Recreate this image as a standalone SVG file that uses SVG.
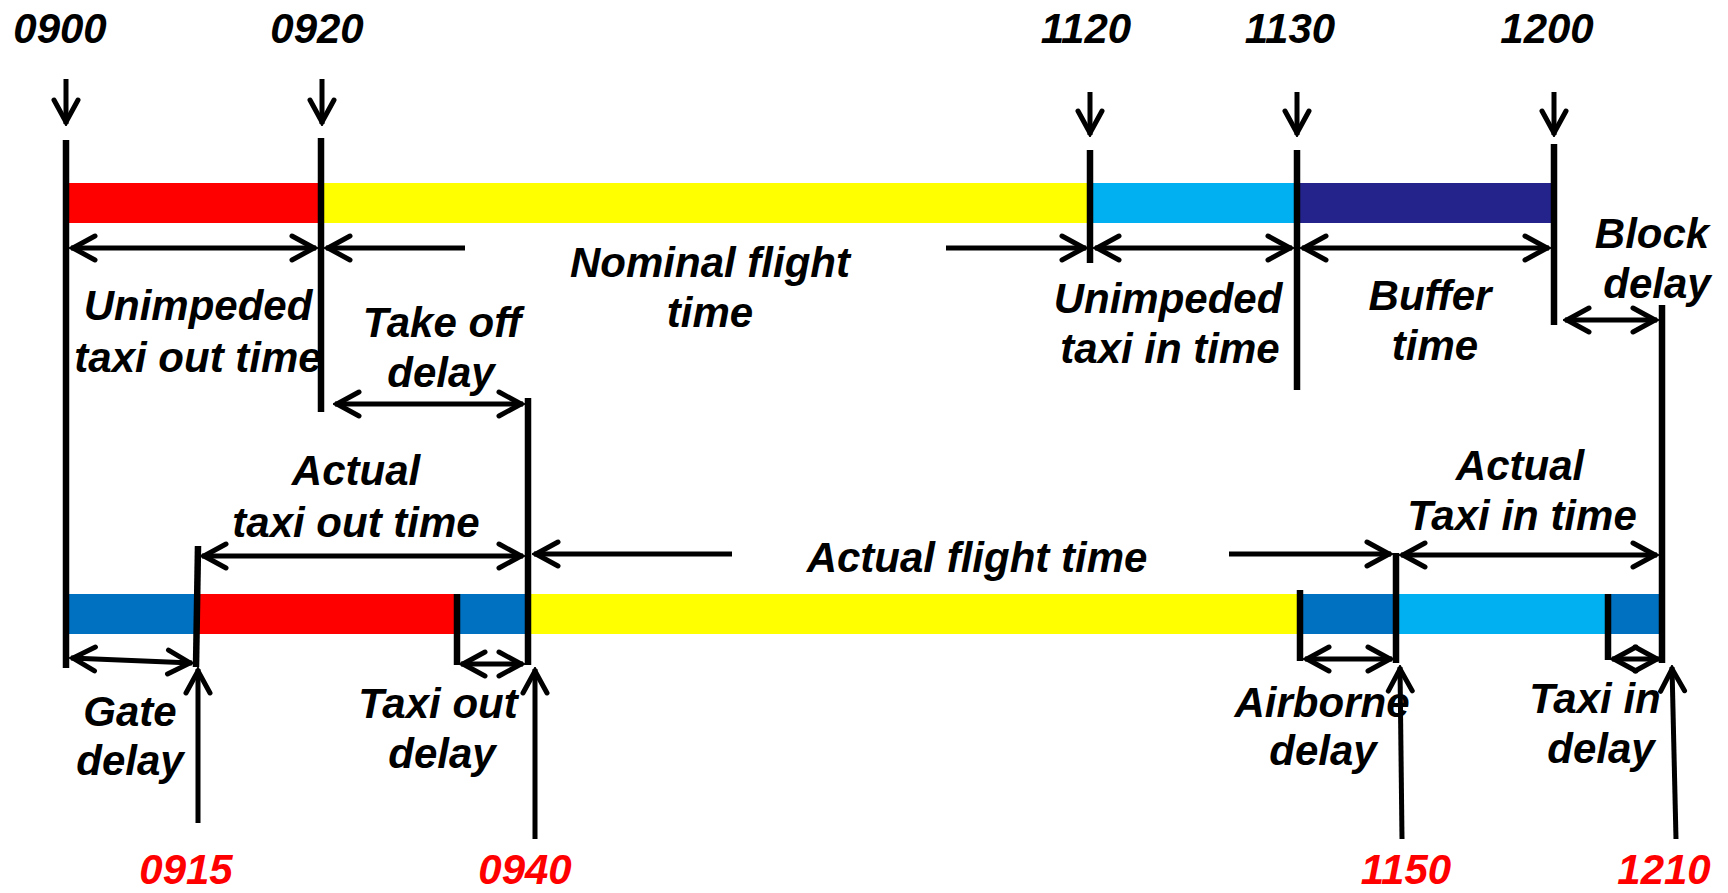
<svg xmlns="http://www.w3.org/2000/svg" width="1728" height="893" viewBox="0 0 1728 893">
  <style>
    text { font-family: "Liberation Sans", Arial, sans-serif; font-weight: bold; font-style: italic; font-size: 42px; text-anchor: middle; fill: #000; }
    text.red { fill: #FF0000; }
    .tick { stroke: #000; stroke-width: 6.5; fill: none; }
    .dim { stroke: #000; stroke-width: 5; fill: none; marker-end: url(#chev); }
    .dim2 { stroke: #000; stroke-width: 5; fill: none; marker-start: url(#chev); marker-end: url(#chev); }
    .ptr { stroke: #000; stroke-width: 5; fill: none; marker-end: url(#chev); }
  </style>
  <defs>
    <marker id="chev" markerUnits="userSpaceOnUse" viewBox="-30 -16 34 32" refX="2" refY="0" markerWidth="34" markerHeight="32" orient="auto-start-reverse">
      <path d="M-22,-12 L0,0 L-22,12" fill="none" stroke="#000" stroke-width="5" stroke-linecap="round" stroke-linejoin="miter"/>
    </marker>
  </defs>
  <rect width="1728" height="893" fill="#FFFFFF"/>

  <!-- scheduled timeline bar -->
  <g id="scheduled-bar">
    <rect x="66" y="183" width="255" height="40" fill="#FF0000"/>
    <rect x="321" y="183" width="769" height="40" fill="#FFFF00"/>
    <rect x="1090" y="183" width="207" height="40" fill="#00B0F0"/>
    <rect x="1297" y="183" width="254" height="40" fill="#23238B"/>
  </g>

  <!-- actual timeline bar -->
  <g id="actual-bar">
    <rect x="66" y="594" width="131" height="40" fill="#0070C0"/>
    <rect x="197" y="594" width="260" height="40" fill="#FF0000"/>
    <rect x="457" y="594" width="71" height="40" fill="#0070C0"/>
    <rect x="528" y="594" width="772" height="40" fill="#FFFF00"/>
    <rect x="1300" y="594" width="96" height="40" fill="#0070C0"/>
    <rect x="1396" y="594" width="212" height="40" fill="#00B0F0"/>
    <rect x="1608" y="594" width="52" height="40" fill="#0070C0"/>
  </g>

  <!-- time marker lines -->
  <g id="ticks">
    <line class="tick" x1="66" y1="140" x2="66" y2="668"/>
    <line class="tick" x1="321" y1="138" x2="321" y2="412"/>
    <line class="tick" x1="1090" y1="150" x2="1090" y2="263"/>
    <line class="tick" x1="1297" y1="150" x2="1297" y2="390"/>
    <line class="tick" x1="1554" y1="144" x2="1554" y2="325"/>
    <line class="tick" x1="528" y1="398" x2="528" y2="665"/>
    <line class="tick" x1="1662" y1="305" x2="1662" y2="663"/>
    <line class="tick" x1="198" y1="546" x2="196" y2="667"/>
    <line class="tick" x1="457" y1="594" x2="457" y2="665"/>
    <line class="tick" x1="1300" y1="590" x2="1300" y2="661"/>
    <line class="tick" x1="1396" y1="553" x2="1396" y2="663"/>
    <line class="tick" x1="1608" y1="594" x2="1608" y2="660"/>
  </g>

  <!-- connectors: pointers and dimension arrows -->
  <g id="connectors">
    <!-- scheduled time pointers -->
    <line class="ptr" x1="66" y1="79" x2="66" y2="124"/>
    <line class="ptr" x1="322" y1="79" x2="322" y2="124"/>
    <line class="ptr" x1="1090" y1="92" x2="1090" y2="135"/>
    <line class="ptr" x1="1297" y1="92" x2="1297" y2="135"/>
    <line class="ptr" x1="1554" y1="92" x2="1554" y2="135"/>
    <!-- actual time pointers -->
    <line class="ptr" x1="198" y1="823" x2="198" y2="669"/>
    <line class="ptr" x1="535" y1="839" x2="535" y2="669"/>
    <line class="ptr" x1="1402" y1="839" x2="1400" y2="667"/>
    <line class="ptr" x1="1676" y1="839" x2="1672" y2="667"/>

    <!-- scheduled durations -->
    <line class="dim2" x1="71" y1="248" x2="316" y2="248"/>
    <line class="dim" x1="465" y1="248" x2="326" y2="248"/>
    <line class="dim" x1="946" y1="248" x2="1086" y2="248"/>
    <line class="dim2" x1="1095" y1="248" x2="1292" y2="248"/>
    <line class="dim2" x1="1302" y1="248" x2="1549" y2="248"/>
    <line class="dim2" x1="1565" y1="320" x2="1657" y2="320"/>
    <line class="dim2" x1="335" y1="404" x2="523" y2="404"/>

    <!-- actual durations -->
    <line class="dim2" x1="202" y1="556" x2="523" y2="556"/>
    <line class="dim" x1="732" y1="554" x2="534" y2="554"/>
    <line class="dim" x1="1229" y1="554" x2="1391" y2="554"/>
    <line class="dim2" x1="1401" y1="555" x2="1657" y2="555"/>

    <!-- delays -->
    <line class="dim2" x1="71" y1="658" x2="192" y2="663"/>
    <line class="dim2" x1="461" y1="664" x2="523" y2="664"/>
    <line class="dim2" x1="1305" y1="659" x2="1392" y2="659"/>
    <line class="dim2" x1="1612" y1="659" x2="1659" y2="659"/>
  </g>

  <!-- scheduled times -->
  <g id="scheduled-times">
    <text x="60" y="43">0900</text>
    <text x="317" y="43">0920</text>
    <text x="1086" y="43">1120</text>
    <text x="1290" y="43">1130</text>
    <text x="1547" y="43">1200</text>
  </g>

  <!-- actual times -->
  <g id="actual-times">
    <text class="red" x="186" y="884">0915</text>
    <text class="red" x="525" y="884">0940</text>
    <text class="red" x="1406" y="884">1150</text>
    <text class="red" x="1664" y="884">1210</text>
  </g>

  <g id="label-unimpeded-taxi-out">
    <text x="198" y="320">Unimpeded</text>
    <text x="198" y="372">taxi out time</text>
  </g>
  <g id="label-nominal-flight">
    <text x="710" y="277">Nominal flight</text>
    <text x="710" y="327">time</text>
  </g>
  <g id="label-take-off-delay">
    <text x="442" y="337">Take off</text>
    <text x="441" y="387">delay</text>
  </g>
  <g id="label-unimpeded-taxi-in">
    <text x="1168" y="313">Unimpeded</text>
    <text x="1170" y="363">taxi in time</text>
  </g>
  <g id="label-buffer">
    <text x="1430" y="310">Buffer</text>
    <text x="1435" y="360">time</text>
  </g>
  <g id="label-block-delay">
    <text x="1652" y="248">Block</text>
    <text x="1657" y="298">delay</text>
  </g>
  <g id="label-actual-taxi-out">
    <text x="356" y="485">Actual</text>
    <text x="356" y="537">taxi out time</text>
  </g>
  <g id="label-actual-flight">
    <text x="977" y="572">Actual flight time</text>
  </g>
  <g id="label-actual-taxi-in">
    <text x="1520" y="480">Actual</text>
    <text x="1522" y="530">Taxi in time</text>
  </g>
  <g id="label-gate-delay">
    <text x="130" y="726">Gate</text>
    <text x="130" y="775">delay</text>
  </g>
  <g id="label-taxi-out-delay">
    <text x="438" y="718">Taxi out</text>
    <text x="442" y="768">delay</text>
  </g>
  <g id="label-airborne-delay">
    <text x="1322" y="717">Airborne</text>
    <text x="1323" y="765">delay</text>
  </g>
  <g id="label-taxi-in-delay">
    <text x="1595" y="713">Taxi in</text>
    <text x="1601" y="763">delay</text>
  </g>
</svg>
